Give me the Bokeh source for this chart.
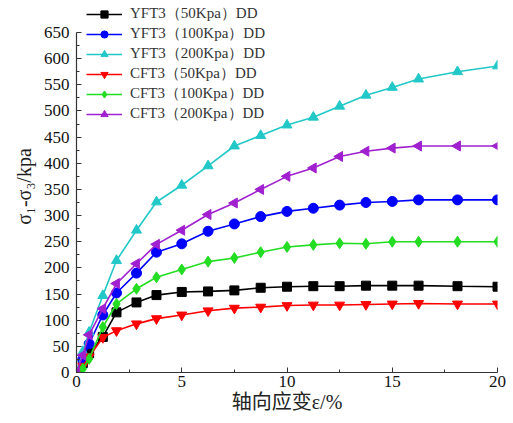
import math
from bokeh.plotting import figure
from bokeh.models import Range1d, Legend, LegendItem, FixedTicker
from bokeh.embed import file_html
from bokeh.resources import INLINE

# axial strain (%)
strain = [0, 0.3, 0.6, 1.25, 1.9, 2.85, 3.8, 5.0, 6.25, 7.5, 8.75, 10, 11.25, 12.5, 13.75, 15, 16.25, 18.1, 20]

# deviator stress (kPa) for each test
yft3_50 = [0, 18, 37, 68, 115, 134, 148, 154, 155, 157, 162, 164, 165, 165, 166, 166, 166, 165, 164]
yft3_100 = [0, 25, 55, 110, 152, 190, 230, 246, 270, 284, 298, 308, 314, 320, 325, 327, 330, 330, 330]
yft3_200 = [0, 40, 77, 147, 214, 272, 326, 358, 395, 433, 453, 473, 488, 509, 530, 545, 561, 575, 586]
cft3_50 = [0, 12, 30, 67, 80, 93, 103, 110, 118, 123, 125, 128, 129, 129, 130, 131, 132, 131, 131]
cft3_100 = [0, 7, 26, 87, 131, 160, 182, 197, 212, 219, 230, 240, 244, 247, 246, 250, 250, 250, 250]
cft3_200 = [0, 33, 72, 122, 170, 208, 245, 272, 302, 324, 350, 375, 391, 413, 423, 429, 433, 433, 433]

labels = ["YFT3（50Kpa）DD", "YFT3（100Kpa）DD", "YFT3（200Kpa）DD",
          "CFT3（50Kpa）DD", "CFT3（100Kpa）DD", "CFT3（200Kpa）DD"]

x_ticks = [0, 5, 10, 15, 20]
y_ticks = list(range(0, 651, 50))

series = [yft3_50, yft3_100, yft3_200, cft3_50, cft3_100, cft3_200]
colors = ["#000000", "#0000FF", "#22C8C8", "#FF0000", "#22DD22", "#A020D0"]
markers = ["square", "circle", "triangle", "inverted_triangle", "diamond", "triangle"]
angles = [0, 0, 0, 0, 0, math.pi / 2]
sizes = [9, 10, 10, 10, 11, 10]

SERIF = "Liberation Serif, Noto Sans CJK SC"

# frame runs to the top edge so the legend can sit above the 650 tick;
# the y axis line itself stops at 650 via its bounds
Y_MAX = 650
FRAME_H = 372
y_top = Y_MAX * FRAME_H / 340.0

p = figure(width=513, height=423, output_backend="svg", toolbar_location=None,
           x_range=Range1d(0, 20), y_range=Range1d(0, y_top),
           min_border_left=76, min_border_right=16, min_border_top=0, min_border_bottom=51)
p.outline_line_color = None
p.xgrid.visible = False
p.ygrid.visible = False
p.background_fill_color = "white"
p.border_fill_color = "white"

p.xaxis.ticker = FixedTicker(ticks=x_ticks, minor_ticks=[2.5, 7.5, 12.5, 17.5])
p.yaxis.ticker = FixedTicker(ticks=y_ticks, minor_ticks=list(range(25, 650, 50)))
p.yaxis.bounds = (0, Y_MAX)

for ax in (p.xaxis[0], p.yaxis[0]):
    ax.axis_line_color = "#333333"
    ax.axis_line_width = 1.2
    ax.major_tick_line_color = "#333333"
    ax.minor_tick_line_color = "#333333"
    ax.major_tick_in = 5
    ax.major_tick_out = 0
    ax.minor_tick_in = 3
    ax.minor_tick_out = 0
    ax.major_label_text_font = SERIF
    ax.major_label_text_font_size = "17px"
    ax.major_label_text_color = "#111111"
    ax.axis_label_text_font = SERIF
    ax.axis_label_text_font_style = "normal"
    ax.axis_label_text_font_size = "20px"
    ax.axis_label_text_color = "#222222"

p.xaxis.major_label_standoff = 3
p.yaxis.major_label_standoff = 7
p.xaxis.axis_label = "轴向应变ε/%"
p.xaxis.axis_label_standoff = 1
p.yaxis.axis_label = "σ₁-σ₃/kpa"
p.yaxis.axis_label_standoff = 6

items = []
for ys, col, mk, ang, sz, lab in zip(series, colors, markers, angles, sizes, labels):
    ln = p.line(strain, ys, line_color=col, line_width=1.6)
    sc = p.scatter(strain, ys, marker=mk, angle=ang, size=sz,
                   fill_color=col, line_color=col)
    items.append(LegendItem(label=lab, renderers=[ln, sc]))

legend = Legend(items=items, location=(10, 249), padding=0, margin=0, spacing=1,
                glyph_width=36, glyph_height=18, label_height=18, label_standoff=8,
                label_text_font="Liberation Serif", label_text_font_size="15px",
                label_text_color="#333333",
                border_line_alpha=0, background_fill_alpha=0)
p.add_layout(legend)

open("out.html", "w").write(file_html(p, INLINE))
